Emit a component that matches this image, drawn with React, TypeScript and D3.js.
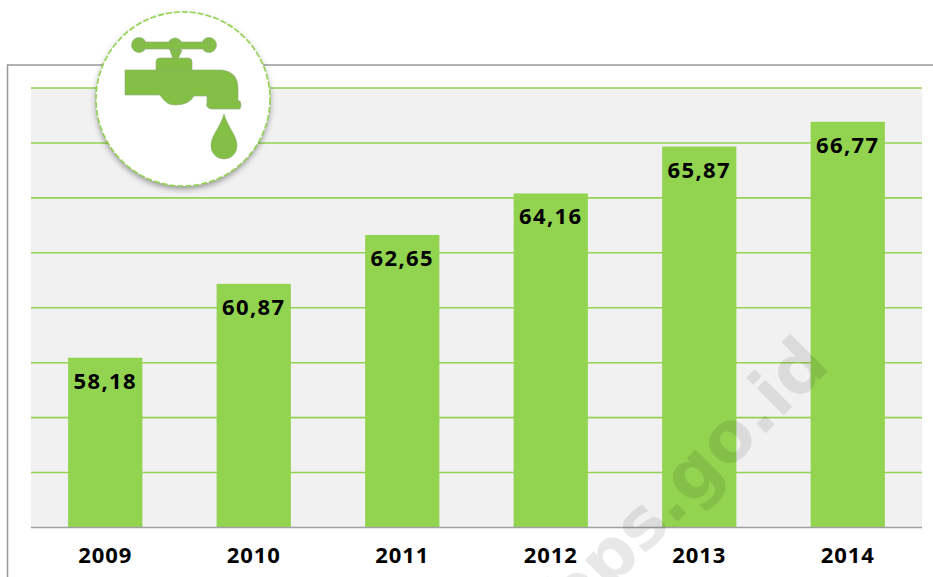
import React from "react";
import * as d3 from "d3";

const years = ["2009", "2010", "2011", "2012", "2013", "2014"];
const values = [58.18, 60.87, 62.65, 64.16, 65.87, 66.77];
const gridValues = [54, 56, 58, 60, 62, 64, 66, 68];

const fmt = (v: number) => v.toFixed(2).replace(".", ",");
const GREEN = "#92d350";
const FONT = "'Open Sans', 'Noto Sans', sans-serif";

export default function App() {
  const x = d3.scaleBand<string>().domain(years).range([31, 922]).paddingInner(0.5).paddingOuter(0.25);
  const y = d3.scaleLinear().domain([52, 68]).range([527.5, 88]);
  return (
    <svg width={933} height={577} style={{ position: "absolute", left: 0, top: 0, background: "#fff" }}>
      <defs>
        <filter id="sh" x="-20%" y="-20%" width="140%" height="140%">
          <feDropShadow dx="0" dy="3" stdDeviation="3" floodColor="#000" floodOpacity="0.4" />
        </filter>
      </defs>
      <path d="M7.5,577V65H933" fill="none" stroke="#999" strokeWidth={1.5} />
      <rect x={31} y={88} width={891} height={439.5} fill="#f1f1f1" />
      {gridValues.map((g) => (
        <line key={g} x1={31} x2={922} y1={y(g)} y2={y(g)} stroke={GREEN} strokeWidth={1.6} />
      ))}
      {years.map((yr, i) => (
        <rect key={yr} x={x(yr)} y={y(values[i])} width={x.bandwidth()} height={y(52) - y(values[i])} fill={GREEN} />
      ))}
      <line x1={31} x2={922} y1={527.5} y2={527.5} stroke="#a0a0a0" strokeWidth={1.5} />
      <text
        transform="translate(832,367) rotate(-45)"
        textAnchor="end"
        fontFamily="'DejaVu Sans', sans-serif"
        fontWeight="bold"
        fontSize={70}
        fill="#000"
        fillOpacity={0.09}
      >
        bps.go.id
      </text>
      {years.map((yr, i) => (
        <g key={yr} fontFamily={FONT} fontWeight="bold" fill="#000" textAnchor="middle">
          <text x={x(yr)! + x.bandwidth() / 2} y={y(values[i]) + 31} fontSize={22} letterSpacing={1.4}>
            {fmt(values[i])}
          </text>
          <text x={x(yr)! + x.bandwidth() / 2} y={563} fontSize={22} letterSpacing={0.9}>
            {yr}
          </text>
        </g>
      ))}
      <circle cx={183} cy={99} r={87} fill="#fff" filter="url(#sh)" />
      <circle cx={183} cy={99} r={87} fill="#fff" stroke={GREEN} strokeWidth={1.6} strokeDasharray="6 2" />
      <g fill="#84bf45" stroke="#8fa77a" strokeWidth={0.6}>
        <circle cx={139} cy={45} r={7.5} />
        <circle cx={175} cy={45} r={7} />
        <circle cx={209} cy={45} r={7.5} />
        <rect x={139} y={42} width={70} height={7} />
        <path d="M170,50H182L178,59H173Z" />
        <rect x={156} y={58} width={36} height={22} rx={4} />
        <path d="M125,70H222Q238,72 238,88V101H240Q242,105 240,109H211Q205,107 207,103V96H194Q189,105 175,105Q166,105 160,95H125Z" />
        <path d="M224,114C228,128 237,135 237,146A13,13 0 0 1 211,146C211,135 220,128 224,114Z" />
      </g>
    </svg>
  );
}
